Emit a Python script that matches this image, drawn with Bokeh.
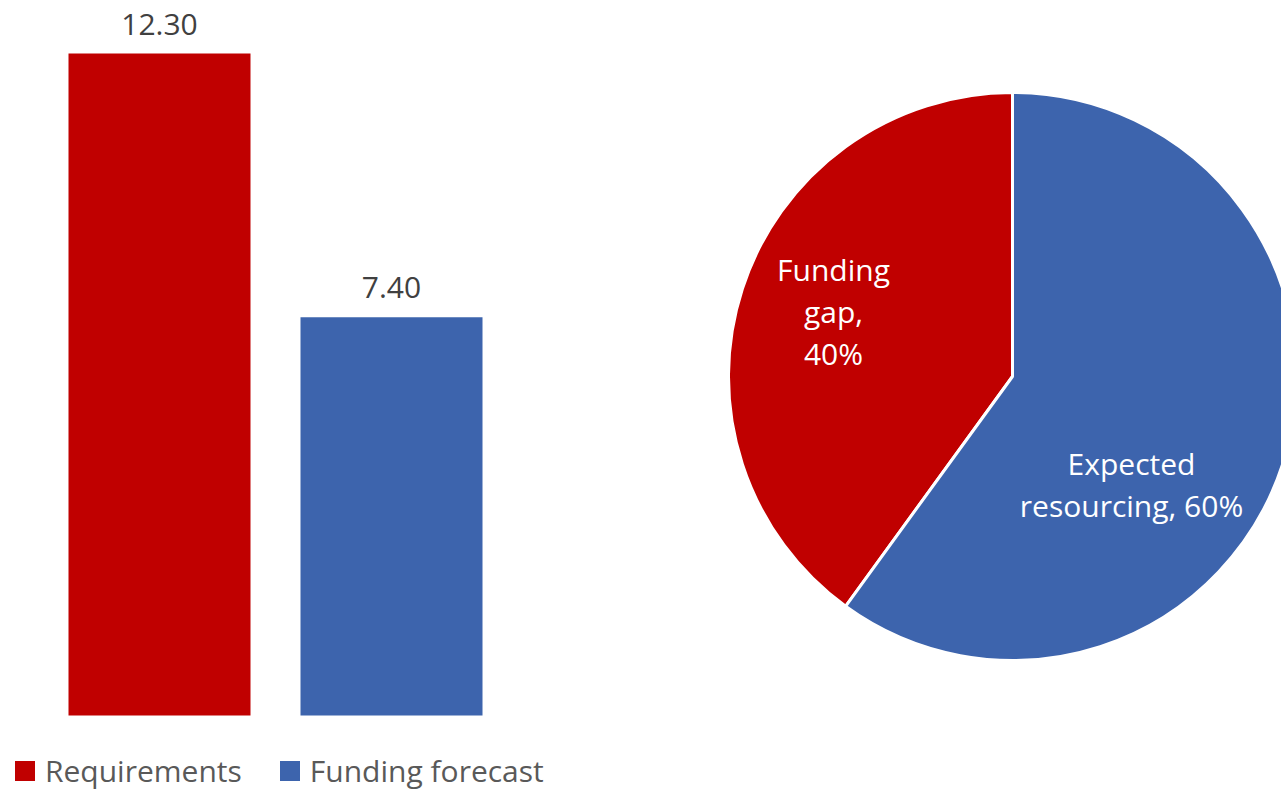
import numpy as np
from bokeh.plotting import figure
from bokeh.models import ColumnDataSource, Range1d, Legend, LegendItem, LabelSet
from bokeh.layouts import row
from bokeh.embed import file_html
from bokeh.resources import INLINE
from bokeh.core.properties import value

# ---------------- data ----------------
categories = ["Requirements", "Funding forecast"]
amounts = [12.30, 7.40]
bar_colors = ["#C00000", "#3D64AD"]

pie_categories = ["Funding gap", "Expected resourcing"]
pie_shares = [40, 60]
pie_colors = ["#C00000", "#3D64AD"]
pie_label_lines = [["Funding", "gap,", "40%"], ["Expected", "resourcing, 60%"]]

# ---------------- style / layout ----------------
FONT = "Open Sans"
H = 792
BW = 708
PW = 573
BAR_PX = 182
STEP_PX = 232
FIRST_CENTER_PX = 159
BASE_PX = 77          # distance of zero line from bottom
TOP_PX = 53           # top of tallest bar from top

# ---------------- bar chart ----------------
ppu = (H - BASE_PX - TOP_PX) / max(amounts)
xs = list(range(len(categories)))
src = ColumnDataSource(dict(
    x=xs, amount=amounts, color=bar_colors, cat=categories,
    label=["{:.2f}".format(a) for a in amounts],
))
x0 = -FIRST_CENTER_PX / STEP_PX
p = figure(width=BW, height=H, toolbar_location=None, output_backend="svg",
           x_range=Range1d(x0, x0 + BW / STEP_PX),
           y_range=Range1d(-BASE_PX / ppu, (H - BASE_PX) / ppu),
           min_border=0, outline_line_color=None)
p.axis.visible = False
p.grid.visible = False
r = p.vbar(x="x", top="amount", bottom=0, width=BAR_PX / STEP_PX, color="color",
           line_color=None, source=src)
p.add_layout(LabelSet(x="x", y="amount", text="label", source=src, y_offset=19,
                      text_align="center", text_baseline="alphabetic",
                      text_font=value(FONT), text_font_size="30px",
                      text_color="#404040"))
items = [LegendItem(label=c, renderers=[r], index=i) for i, c in enumerate(categories)]
legend = Legend(items=items, location=(12, 1), orientation="horizontal",
                glyph_width=25, glyph_height=25, label_standoff=8, spacing=35,
                padding=0, margin=0, border_line_color=None,
                background_fill_alpha=0, label_text_font=FONT,
                label_text_font_size="30px", label_text_color="#595959")
p.add_layout(legend)

# ---------------- pie chart ----------------
CX, CY, R = 304, 416, 284
shares = np.array(pie_shares, dtype=float)
frac = shares / shares.sum()
ends = np.pi / 2 + 2 * np.pi * np.cumsum(frac)
starts = np.concatenate([[np.pi / 2], ends[:-1]])
psrc = ColumnDataSource(dict(start=starts, end=ends, color=pie_colors, cat=pie_categories))
p2 = figure(width=PW, height=H, toolbar_location=None, output_backend="svg",
            x_range=Range1d(0, PW), y_range=Range1d(0, H),
            min_border=0, outline_line_color=None)
p2.axis.visible = False
p2.grid.visible = False
p2.wedge(x=CX, y=CY, radius=R, start_angle="start", end_angle="end",
         fill_color="color", line_color="white", line_width=3, source=psrc)

label_offsets = [(-179, 107), (119, -87)]   # offsets of first line from centre
LINE_GAP = 42
tx, ty, tt = [], [], []
for (dx, dy), lines in zip(label_offsets, pie_label_lines):
    for k, ln in enumerate(lines):
        tx.append(CX + dx)
        ty.append(CY + dy - k * LINE_GAP)
        tt.append(ln)
p2.text(x=tx, y=ty, text=tt, text_align="center", text_baseline="alphabetic",
        text_color="white", text_font=value(FONT), text_font_size="30px")

layout = row(p, p2, spacing=0)
open("out.html", "w").write(file_html(layout, INLINE))
